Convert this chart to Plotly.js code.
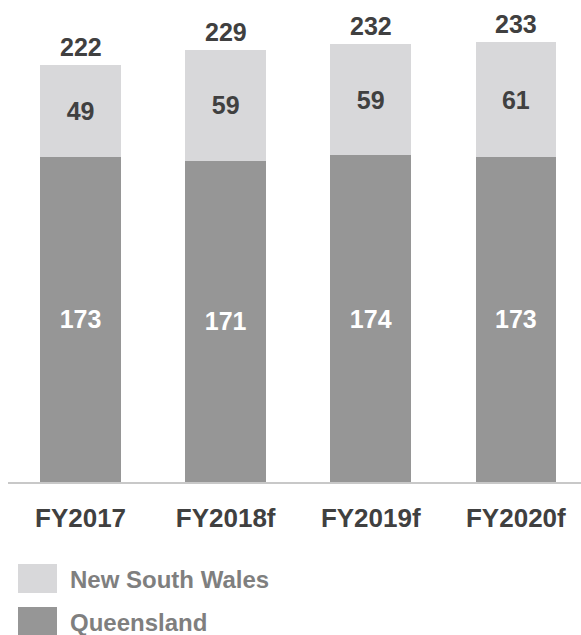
<!DOCTYPE html>
<html>
<head>
<meta charset="utf-8">
<script src="https://cdn.plot.ly/plotly-3.0.1.min.js"></script>
<style>
  html, body { margin: 0; padding: 0; background: #ffffff; }
  #chart { width: 581px; height: 635px; }
</style>
</head>
<body>
<div id="chart"></div>
<script>
// ---- data ----
var categories = ["FY2017", "FY2018f", "FY2019f", "FY2020f"];
var queensland = [173, 171, 174, 173];
var newSouthWales = [49, 59, 59, 61];
var totals = [222, 229, 232, 233]; // totals as printed (source rounding)
var seriesNames = ["New South Wales", "Queensland"];

// ---- styles ----
var FONT = "Liberation Sans, Arial, Helvetica, sans-serif";
var DARK_TEXT = "#404040";
var LIGHT = "#d8d8da";
var DARKBAR = "#969696";
var W = 581, H = 635;
var M = { l: 8, r: 0, t: 20, b: 153 };
var plotW = W - M.l - M.r, plotH = H - M.t - M.b;
function px2x(px) { return (px - M.l) / plotW; }
function py2y(py) { return (H - M.b - py) / plotH; }

var traces = [
  {
    type: "bar", name: seriesNames[1], x: categories, y: queensland,
    marker: { color: DARKBAR },
    text: queensland.map(String), textposition: "inside", insidetextanchor: "middle",
    textfont: { family: FONT, size: 25, color: "#ffffff", weight: "bold" },
    constraintext: "none", hoverinfo: "skip", showlegend: false
  },
  {
    type: "bar", name: seriesNames[0], x: categories, y: newSouthWales,
    marker: { color: LIGHT },
    text: newSouthWales.map(String), textposition: "inside", insidetextanchor: "middle",
    textfont: { family: FONT, size: 25, color: DARK_TEXT, weight: "bold" },
    constraintext: "none", hoverinfo: "skip", showlegend: false
  }
];

var annotations = categories.map(function (c, i) {
  return {
    x: c, y: queensland[i] + newSouthWales[i], xref: "x", yref: "y", text: String(totals[i]),
    showarrow: false, yanchor: "bottom", yshift: 2,
    font: { family: FONT, size: 25, color: DARK_TEXT, weight: "bold" }
  };
});

// legend (drawn manually for large swatches)
var legendRows = [
  { name: seriesNames[0], color: LIGHT, top: 564, bottom: 593, textY: 579 },
  { name: seriesNames[1], color: DARKBAR, top: 607, bottom: 636, textY: 622 }
];
var shapes = [];
legendRows.forEach(function (r) {
  shapes.push({
    type: "rect", xref: "paper", yref: "paper",
    x0: px2x(18), x1: px2x(57), y0: py2y(r.bottom), y1: py2y(r.top),
    fillcolor: r.color, line: { width: 0 }
  });
  annotations.push({
    xref: "paper", yref: "paper", x: px2x(68), y: py2y(r.textY),
    xanchor: "left", yanchor: "middle", showarrow: false, text: r.name,
    font: { family: FONT, size: 24, color: "#7f7f7f", weight: "bold" }
  });
});

var layout = {
  width: W, height: H,
  margin: M,
  paper_bgcolor: "#ffffff", plot_bgcolor: "#ffffff",
  barmode: "stack", bargap: 0.445,
  showlegend: false,
  xaxis: {
    type: "category", range: [-0.5, (W - M.l - M.r) / 145.1 - 0.5],
    showline: true, linecolor: "#c8c8c8", linewidth: 2,
    showgrid: false, zeroline: false,
    ticks: "outside", ticklen: 12, tickcolor: "rgba(0,0,0,0)",
    tickfont: { family: FONT, size: 26, color: DARK_TEXT, weight: "bold" }
  },
  yaxis: {
    range: [0, plotH / 1.879], visible: false, showgrid: false, zeroline: false
  },
  annotations: annotations,
  shapes: shapes
};

Plotly.newPlot("chart", traces, layout, { staticPlot: true, displayModeBar: false });
</script>
</body>
</html>
